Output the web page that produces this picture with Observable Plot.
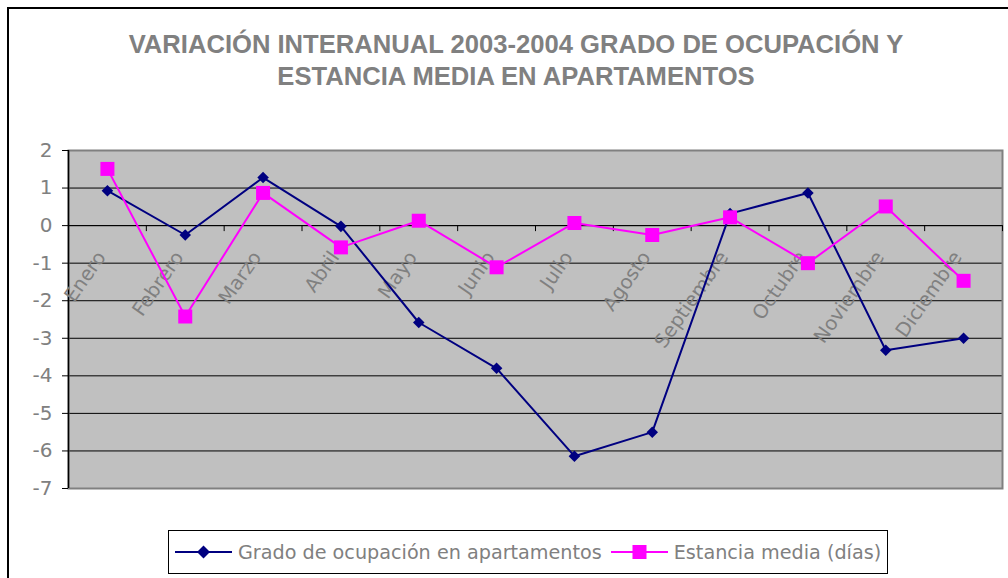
<!DOCTYPE html>
<html><head><meta charset="utf-8">
<script src="https://cdn.jsdelivr.net/npm/d3@7"></script>
<script src="https://cdn.jsdelivr.net/npm/@observablehq/plot@0.6"></script>
<style>
html,body{margin:0;padding:0;background:#fff;overflow:hidden;width:1008px;height:578px;}
#frame{position:absolute;left:7px;top:7px;width:1030px;height:600px;border:2px solid #000;box-sizing:border-box;}
#title{position:absolute;left:0;top:28px;width:1032px;text-align:center;font:bold 25.6px "Liberation Sans",Arial,sans-serif;color:#808080;line-height:32px;}
#chart{position:absolute;left:0;top:130px;}
#legend{position:absolute;left:168px;top:530px;width:720px;height:44px;border:1px solid #000;box-sizing:border-box;display:flex;align-items:center;font:19.2px "DejaVu Sans",sans-serif;color:#808080;white-space:nowrap;}
.item{display:flex;align-items:center;}
.item svg{margin:0 6px 0 6px;}
.item + .item svg{margin-left:9px;}
</style>
</head><body>
<div id="frame"></div>
<div id="title">VARIACIÓN INTERANUAL 2003-2004 GRADO DE OCUPACIÓN Y<br>ESTANCIA MEDIA EN APARTAMENTOS</div>
<div id="chart"></div>
<div id="legend"></div>
<script>
const months = ["Enero","Febrero","Marzo","Abril","Mayo","Junio","Julio","Agosto","Septiembre","Octubre","Noviembre","Diciembre"];
const grado = [0.93,-0.25,1.28,-0.02,-2.58,-3.80,-6.14,-5.50,0.32,0.87,-3.32,-3.00];
const estancia = [1.51,-2.42,0.87,-0.58,0.13,-1.11,0.07,-0.25,0.22,-1.00,0.51,-1.47];
const yTicks = [-7,-6,-5,-4,-3,-2,-1,0,1,2];
const seriesNames = ["Grado de ocupación en apartamentos","Estancia media (días)"];
const colors = ["#000080","#FF00FF"];

const rows = months.map((m,i)=>({i, month:m, grado:grado[i], estancia:estancia[i]}));
const seps = months.map((m,i)=>i+0.5);
const font = "DejaVu Sans";

const chart = Plot.plot({
  width:1008, height:400, marginLeft:68, marginRight:6, marginTop:20, marginBottom:42,
  x:{domain:[-0.5, months.length-0.5], axis:null},
  y:{domain:[-7,2], axis:null},
  style:{background:"transparent", overflow:"visible"},
  marks:[
    Plot.frame({fill:"#C0C0C0", stroke:null}),
    Plot.ruleY(yTicks.slice(1,-1), {stroke:"#000", strokeWidth:1}),
    Plot.frame({stroke:"#808080", strokeWidth:2}),
    Plot.ruleX([-0.5], {stroke:"#000", strokeWidth:1.5}),
    Plot.ruleY([0], {stroke:"#000", strokeWidth:1}),
    Plot.ruleX(seps, {x:d=>d, y1:d=>0, y2:d=>0, insetBottom:-6, stroke:"#000"}),
    Plot.ruleY(yTicks, {y:d=>d, x1:d=>-0.5, x2:d=>-0.5, insetLeft:-6, stroke:"#000"}),
    Plot.axisY({ticks:yTicks, tickSize:0, tickPadding:16, tickFormat:d=>String(d), fontSize:20, fontFamily:font, color:"#808080"}),
    Plot.text(rows, {x:"i", y:d=>0, text:"month", rotate:-55, textAnchor:"end", dx:-6, dy:28, fontSize:19.5, fontFamily:font, fill:"#808080"}),
    Plot.line(rows, {x:"i", y:"grado", stroke:colors[0], strokeWidth:2}),
    Plot.dot(rows, {x:"i", y:"grado", symbol:"diamond2", r:5.2, fill:colors[0], stroke:null}),
    Plot.line(rows, {x:"i", y:"estancia", stroke:colors[1], strokeWidth:2}),
    Plot.dot(rows, {x:"i", y:"estancia", symbol:"square", r:7.9, fill:colors[1], stroke:null})
  ]
});
document.getElementById("chart").appendChild(chart);

const legend = d3.select("#legend");
seriesNames.forEach((name, k) => {
  const it = legend.append("div").attr("class","item");
  const s = it.append("svg").attr("width",57).attr("height",20);
  s.append("line").attr("x1",0).attr("x2",57).attr("y1",10).attr("y2",10).attr("stroke",colors[k]).attr("stroke-width",2);
  if (k === 0) s.append("path").attr("d","M28.5,3.5L35,10L28.5,16.5L22,10Z").attr("fill",colors[k]);
  else s.append("rect").attr("x",21.5).attr("y",3).attr("width",14).attr("height",14).attr("fill",colors[k]);
  it.append("span").text(name);
});
</script>
</body></html>
